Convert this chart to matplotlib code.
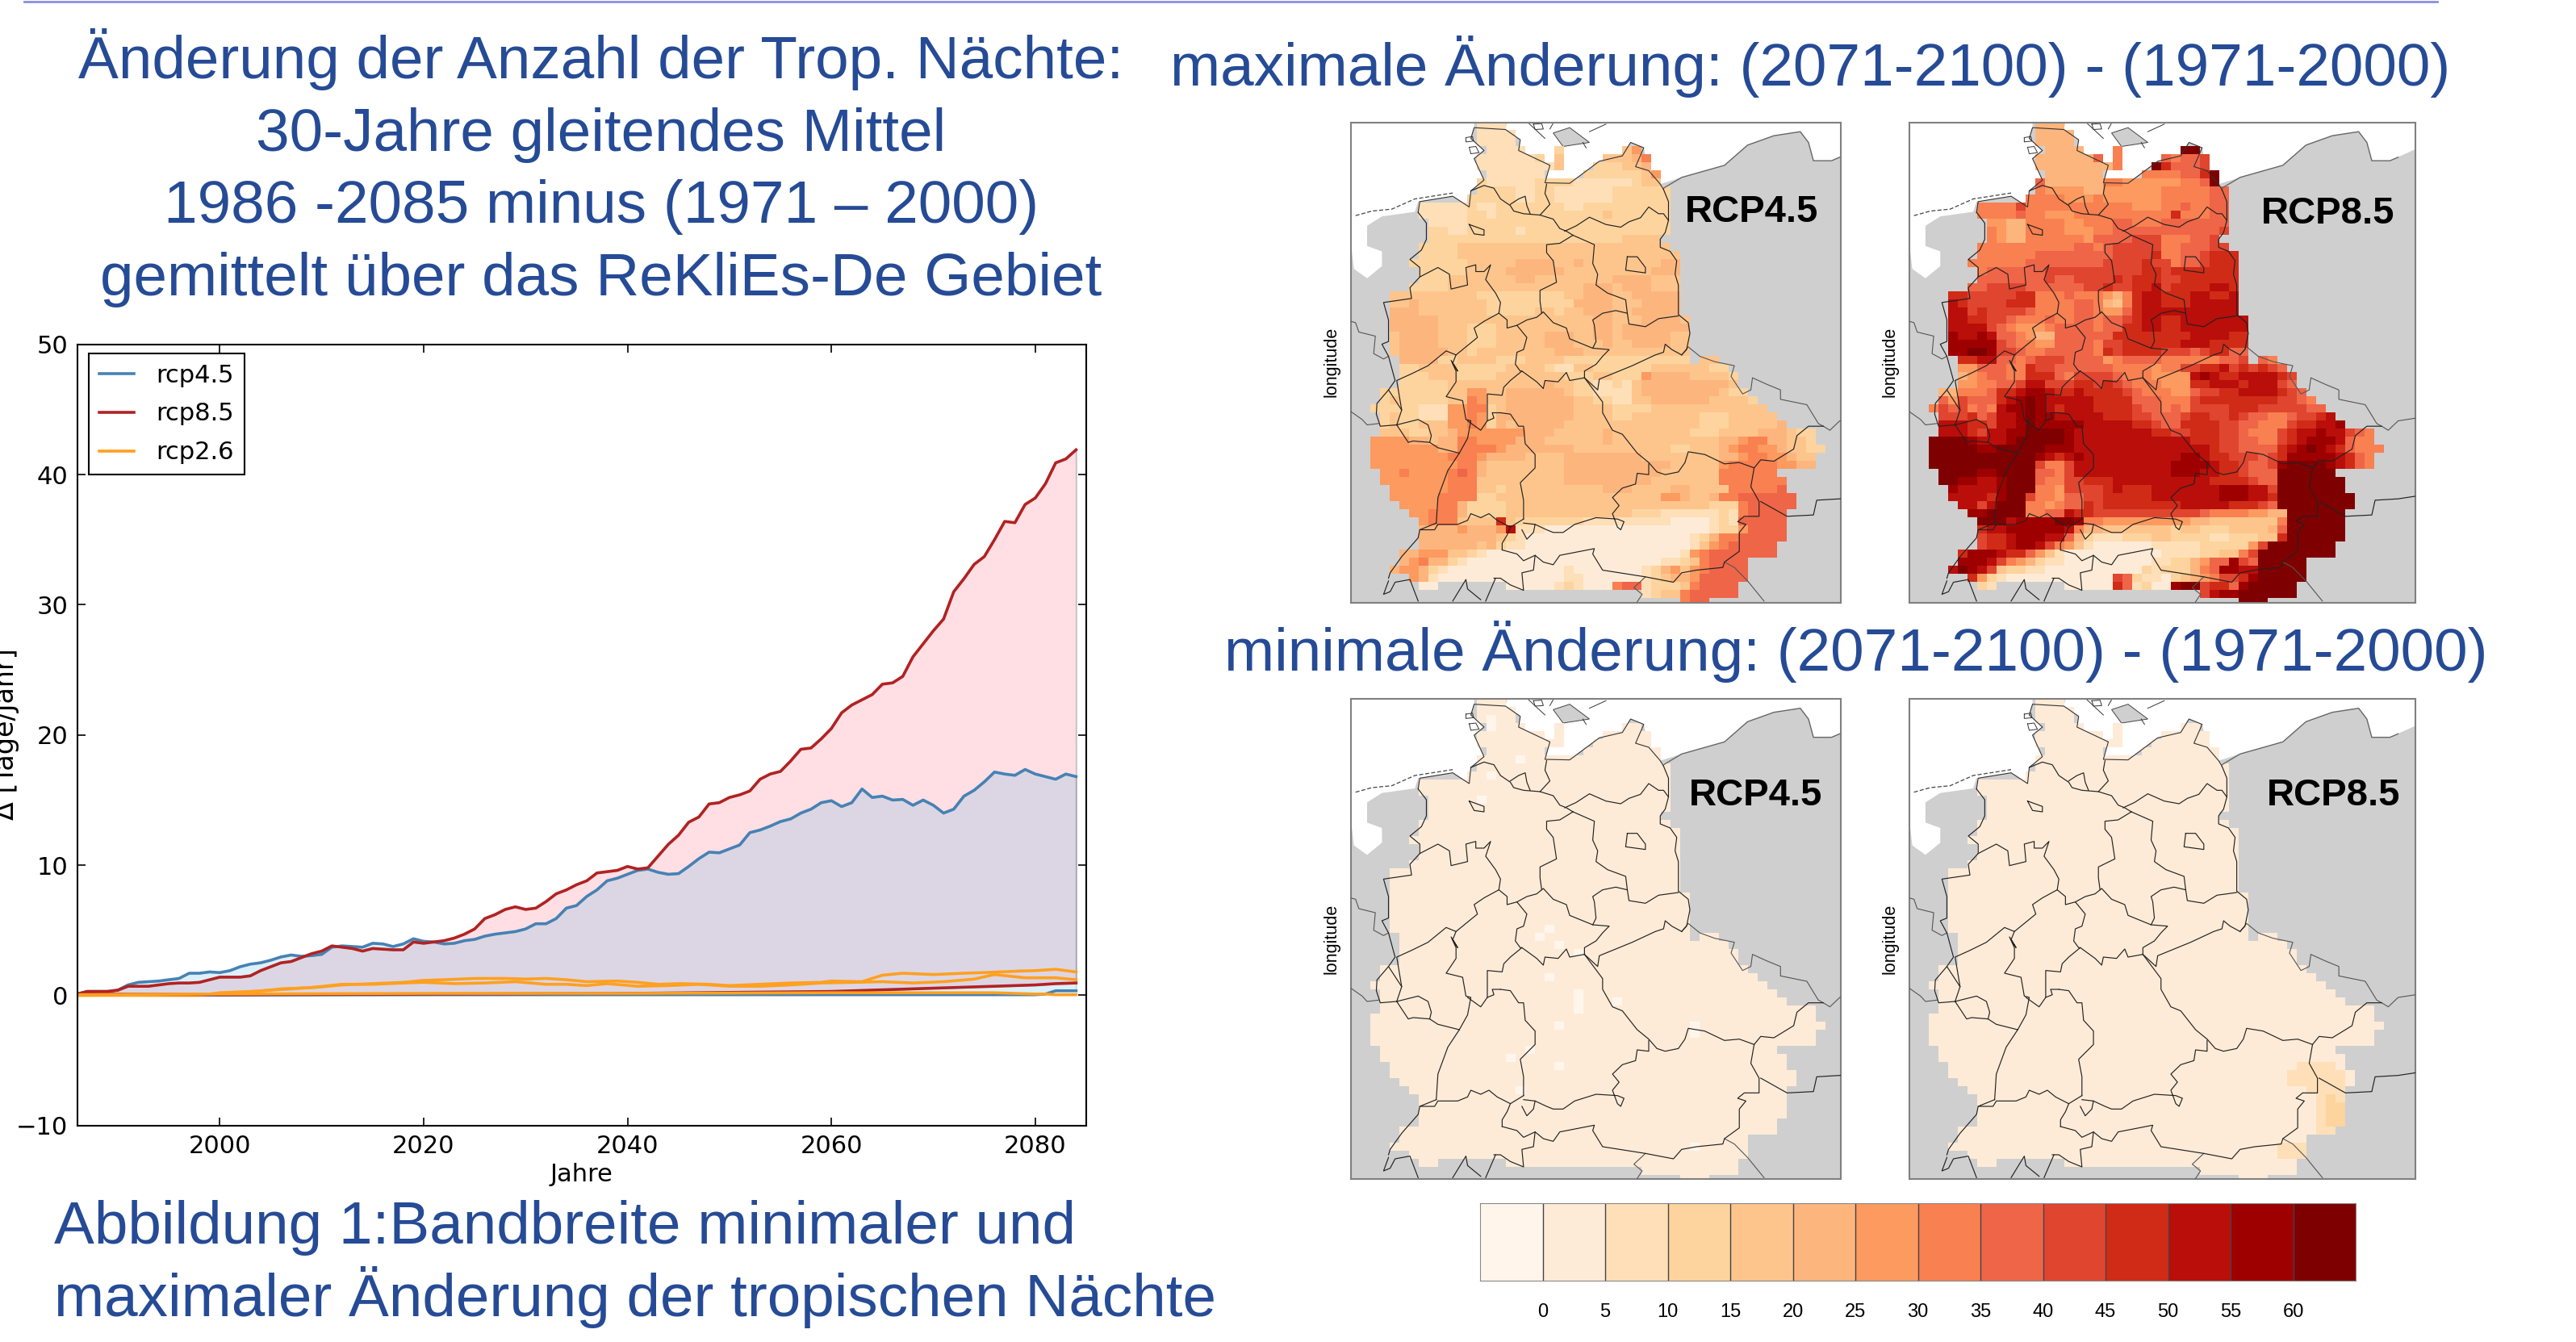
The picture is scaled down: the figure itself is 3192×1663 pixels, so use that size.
import numpy as np
import matplotlib
matplotlib.use("Agg")
import matplotlib.pyplot as plt
from matplotlib.colors import ListedColormap
from matplotlib.patches import Polygon

W, H = 3192, 1663
BLUE_TXT = "#264B96"

# ---------------- time series ----------------
YEARS = list(range(1986, 2085))
RCP85_MAX = [.1,.3,.3,.3,.4,.7,.7,.7,.8,.9,.95,.95,1.0,1.2,1.4,1.4,1.4,1.5,1.9,2.2,2.5,2.6,2.9,3.2,3.4,3.8,3.7,3.6,3.4,3.6,
             3.55,3.5,3.5,4.1,4.0,4.1,4.2,4.4,4.7,5.1,5.9,6.2,6.6,6.8,6.6,6.7,7.2,7.8,8.1,8.5,8.8,9.4,9.5,9.6,9.9,9.7,9.8,
             10.7,11.6,12.3,13.3,13.7,14.7,14.8,15.2,15.4,15.7,16.6,17.0,17.2,18,18.9,19,19.7,20.5,21.7,22.3,22.7,23.1,23.9,
             24.0,24.5,26,27,28,28.9,31,32,33.1,33.7,35,36.4,36.3,37.7,38.2,39.3,40.9,41.2,41.9]
RCP45_MAX = [.1,.3,.3,.3,.4,.8,1.0,1.05,1.1,1.2,1.3,1.7,1.7,1.8,1.75,1.9,2.2,2.4,2.5,2.7,2.95,3.1,3.0,3.05,3.15,3.7,3.8,3.75,3.7,4.0,
             3.95,3.75,3.95,4.35,4.15,4.1,3.95,4.0,4.2,4.3,4.55,4.7,4.8,4.9,5.1,5.5,5.5,5.9,6.7,6.9,7.6,8.1,8.8,9.0,9.3,9.6,9.7,
             9.45,9.3,9.35,9.9,10.5,11,10.95,11.25,11.55,12.5,12.7,13,13.35,13.55,14,14.3,14.8,14.95,14.5,14.8,15.85,15.2,15.3,
             15,15.05,14.6,15,14.6,14,14.3,15.3,15.75,16.4,17.15,17,16.9,17.35,17,16.8,16.6,17,16.8]
LOW_YEARS = [1986, 2000, 2020, 2040, 2060, 2064, 2068, 2072, 2076, 2080, 2081, 2082, 2084]
RCP85_MIN = [.1, .05, .1, .15, .3, .4, .5, .6, .7, .8, .85, .9, .95]
RCP45_MIN = [.05, .02, .05, .05, .05, .05, .05, .05, .05, .05, .1, .35, .35]
RCP26_MIN = [.05, .1, .15, .15, .2, .2, .2, .2, .2, .1, .1, .05, .05]
O_YEARS = [1986,1998,2000,2003,2005,2008,2010,2012,2015,2018,2020,2022,2025,2028,2030,2032,2034,2036,2039,2041,2043,2045,2048,
           2050,2053,2056,2059,2060,2063,2065,2067,2070,2073,2075,2078,2080,2082,2084]
RCP26_A = [0,0,.2,.3,.4,.55,.65,.8,.9,1.0,1.15,1.2,1.3,1.3,1.25,1.3,1.2,1.05,1.1,1.0,.85,.9,.85,.75,.85,.95,1.0,1.1,1.05,1.55,1.7,1.6,1.7,1.75,1.85,1.9,2.0,1.8]
O2_YEARS = [1986,2000,2003,2006,2009,2012,2015,2018,2020,2023,2026,2029,2032,2034,2036,2038,2041,2044,2047,2050,2053,2056,2059,2062,2065,2068,2071,2074,2076,2079,2082,2084]
RCP26_B = [0,.1,.25,.5,.6,.85,.85,.95,1.0,.9,.95,1.05,.85,.85,.75,.9,.7,.75,.85,.7,.7,.8,.95,1.0,1.05,.95,1.05,1.25,1.6,1.35,1.35,1.2]

# ---------------- colour classes ----------------
CB_TICKS = [0,5,10,15,20,25,30,35,40,45,50,55,60]
CB_COLORS = ["#FFF5EB","#FEEBD7","#FEDFB8","#FDD49E","#FDC58C","#FDB57E","#FC9A5F","#F98050",
             "#EF6548","#E0452F","#D02B17","#B90E0A","#9E0000","#7F0000"]

# ---------------- gridded changes: "start:levels" per grid row, hex digit = colour class ----------------
MAX45 = [
"12:222","12:2222","12:2222","13:2222 20:3 27:46","12:2222223 20:4 25:44457","12:22222222 20:4 24:333445",
"13:222222 23:33333346","12:3222223 333222222344","12:33332233222222333333","11:333332233222222333333",
"6:22222322333333322333333333","6:22222 332 33333333333 4 333333","7:2222 333 333333333333333333",
"7:3322 33333 2 333333333333333","7:33333333333333333333 4444","6:3333 4444444444444444444444",
"6:3333 44444444444444444444444","5:3333334 4444 555544 5444 44444 55","6:333334444555555444444444555",
"6:33344444 4455444 44444 5555 444","5:3333 444444444444 44 555 4 555 444","3:444 444444 333333 333 44 555 44 55 555",
"3:445 4444444 3333333 33 5555 444 5555","3:555 4444444 33333 44 344 555 445 5555","3:555 55 444444 44444 4444455 44455554",
"3:555 55 444 333 44444 444445 5 45555555","3:455 55 444 333 44444 5554455 45555544","3:455 55 444 333 44444 5554445 44555544",
"3:455 55 544 344 44444 4555444 44444444","4:5555 334444 33344 4433 3333 3333333 35:44",
"4:3344443 33334 444 322 4433 333344444433","4:3334443 33344 444 443 3344 333 65 55544443",
"4:3333344 44444 444 544 3322 32 45555555554","2:33 3333344 66 4 45 5555 54 3322 22 4555555554 33",
"2:34 3333344 76 44 55555 55 4433 22 4455555544 443","1:3 33 3322266 77 34 55555 55 4444 33 3344444444 4444",
"2:34 3322266 76 35 55555 55 4444 3344 44444333 44444","2:34 3344466 76 35 45555 54 4444 4444 44444333 444445",
"2:444 334456 6666 665 5544 4445 44444444 333 4444 555 433","1:666 655 455 77 666 65 5544 44445 44444444 444 55 677 55 443",
"1:666 666 655 77 776 55 5555 54444 44444433 444 5677 665 4433","1:666 666 667 77 655 55 4444 55555 555444 44444 55677 66 544",
"1:666 666 666 77 544 44 4444 55555 555555 44444 67777 76 655","2:66 766 667 87 544 44 4444 55555 555554 44444 77777 7",
"2:66 666 667 77 444 44 4444 55555 555544 44444 77777 77","3:6 666 667 77 443 44 4444 44445 554444 55444 47777 78",
"3:6 666 677 77 334 44 4444 44444 444446 65445 77888 888","4:666 677 53 333 44 4444 44444 444444 44443 33788 888",
"5:66 777 53 333 44 4444 44444 443332 22222 32788 88","6:6 777 44 44 a 43 3333 33222 222222 11112 32888 88",
"6:5 555 65 55 6 b2 2211 11111 111111 11112 33688 88","6:5 555 55 55 4 32 1111 11111 111111 11235 77888 88",
"6:5555 55 45 322 1111 11111 111111 11246 78888 8","4:556 664 43 21 111 1111 11111 111111 12678 88888 8",
"4:567 553 21 11 111 1111 11111 111112 23478 888","3:5 665 321 11 11 111 1111 21111 11123 56 4678 888",
"5:65 211 11 11 111 1111 22111 11123 45 5688 888","6:11 15:11111 232 111 788 2333 4788 88","29:2344 788 888","33:788",
]
MAX85 = [
"12:555","12:5555","12:5555","13:5555 20:7 27:dd","12:5555558 20:7 25:87889","12:55555555 20:7 24:da8889",
"13:555555 23:777788ad","12:8555555 7766666 677 8d","12:766 665 56 66666 777 7788","11:7 777 666 76 66666 777 7788",
"6:7777 9 7777 777 77 77666 778 7788","6:7777 8 7766 677 77 77777 7a7 7788","7:6655 7777 667 77 88777 888 8888",
"7:7655 7777 666 77 88888 888 8889","7:7655 7777 776 88 88999 777 889","6:77 7777 7777 887 8 999 99 7788 899",
"6:77 7777 8888 888 8 999 9a 7788 9aaa","5:7 77 7778 8888 888 9 999 a9 9788 9aaa","6:78 8888 8999 999 9 999 aa 9aaa aaaa",
"6:88 8888 8988 999 9 a9a aa 99aa aaaa","5:8 89 9998 8888 899 a 99a ab 9aaa abba","3:aa9 9999 aa7 778 777 65 7a bb aaab baab",
"3:ba9 999a aa7 777 887 54 7a bb aaab bbbb","3:bb9 a999 987 777 887 66 8a bb bbbb bbbb","3:bba a998 777 877 887 88 9a bb aabb bbbbb",
"3:bbb b987 666 788 887 88 aa bb aabb bbbbb","3:cbb cb88 765 588 888 8a aa aa aaab bbbaa","3:ccc cc98 776 688 887 99 aa aa aabb baaaa",
"3:ccd dc99 877 888 887 a9 aa aa 9998 9aa88","4:aabb 887899 98888 6788 8877 7777889 35:87",
"4:6688877 a9988 888 877 7767 799aab9a9a98","4:5678877 aaa87 999 987 7766 66 bcb aabbbba9",
"4:6677889 bb999 aa9 a98 7776 66 aabbbabbb98","2:55 7778aab cc b aa baaa a9 8777 66 899aabbbba 98",
"2:86 9888abc dc bb bbbaa aa 8887 77 9aaaaaaaa9 987","1:7 98 9787bcc dc ba bbbaa aa 9887 87 9999aaa999 9988",
"2:99 9a89bbc dc cb bbbba aa 9988 89aa 99a98877 899ab","2:bb baa9bbc dc cc ccbbb bb aa98 8aaa a9988777 9aabbc",
"2:bbb a9bbcc dddd cbb bbbb bbaa 99aaa998 777 9abb cbb 987","1:ddd dcb bbc dd ddd cb bbbb bbbbb bbaaa998 877 9a bcc cb 877",
"1:ddd ddc cdd dd dcc cb bbbb bbbbb bbbba998 888 abcd cba 8777","1:ddd ddd ddd dd cba bc bbbb bbbbb bccbaa 99989 acccc cb a87",
"1:ddd ddd ddd dd 977 9b bbbb bbbbb ccccba a9889 cdddd cb a87","2:dd ddc cdd dd 887 9b bbbb bbbbb cccbba a9888 ddddd d",
"2:dd ccb bcd dd 877 99 aaab bbbbb bbbbaa aa988 ddddd dd","3:c bbb bcd dd 776 99 99ab aaabb bbbbbc ccbb9 ddddd dd",
"3:b bbb acd d9 776 88 99aa aaabb bbbbbc ccbba ddddd ddd","4:bb9 bdd d7 767 88 a9aa aaaaa abbbbb aaa98 ddddd ddd",
"5:cc ddd d7 788 ba a999 99999 999877 77665 5dddd dd","6:d ddb cc ccd dc 7766 66666 665544 44444 7dddd dd",
"6:a bbc cc ccc b7 5544 44444 344333 44445 8dddd dd","6:9 aab cc cbb 85 3222 33344 333322 33344 adddd dd",
"6:9aab cc b9 764 2111 11122 222333 3369d ddddd d","4:acc cba a8 64 211 1111 11112 222334 479dd ddddd d",
"4:ccc b97 65 32 211 1111 11122 335688 c98dd ddd","3:b dcb 943 32 21 111 1111 11323 33578 cc bbdd ddd",
"5:a6 321 11 11 111 1119 83221 34567 99 acdd ddd","6:32 15:11111 a82 311 cdd 9aa8 cddd dd","29:9bcc ddd ddd","33:ddd",
]
# departures from the uniform 0-5 class in the minimum panels: (row, col, class)
MIN45_CELLS = [(2,13,0),(3,13,0),(9,13,0),(7,16,0),(12,12,0),(29,18,0),(30,20,0),(28,19,0),(31,22,0),(36,22,0),(37,22,0),(38,22,0),
               (40,20,0),(37,26,0),(40,34,0),(41,34,0),(43,17,0),(44,15,0),(45,20,0),(48,16,0),(55,34,0),(34,19,0)]
MIN85_SEGMENTS = [(45,39,"2222"),(46,38,"222222"),(47,38,"222222"),(48,40,"2222"),(49,41,"232"),(50,41,"233"),(51,41,"233"),
                  (52,41,"233"),(53,41,"22"),(55,37,"222"),(56,37,"222")]

# ---------------- geography, in map units ----------------
SEA = [(35,35),(35,475),(45,580),(85,615),(130,570),(130,515),(85,495),(85,420),(130,385),(230,368),(240,330),(345,310),(395,350),
       (400,290),(440,250),(410,170),(440,140),(400,95),(410,55),(410,35),(510,35),(505,62),(550,100),(545,140),(640,195),(625,260),
       (700,262),(790,180),(860,160),(885,110),(925,130),(940,215),(975,265),(1040,240),(1170,195),(1240,120),(1320,85),(1400,70),
       (1425,110),(1440,178),(1495,178),(1600,120),(1600,35)]
ISLAND = [(650,75),(700,55),(760,110),(680,125)]
COAST = [(240,370),(245,330),(345,310),(395,350),(400,290),(440,250),(410,170),(440,140),(400,95),(410,55),(505,62),(550,100),(545,140),
         (640,195),(625,260),(700,262),(790,180),(860,160),(885,110),(925,130),(900,200),(940,215),(975,265),(985,285)]
EAST_COAST = [(985,280),(1040,240),(1170,195),(1240,120),(1320,85),(1400,70),(1425,110),(1440,178),(1495,178),(1520,165)]
SMALL_ISLANDS = [
 [(385,92),(405,88),(408,105),(385,108),(385,92)],
 [(395,128),(415,125),(425,148),(400,152),(395,128)],
 [(590,42),(615,40),(620,60),(595,62),(590,42)],
 [(575,38),(625,95)],[(640,60),(650,38)],[(760,70),(810,42)],[(740,110),(750,130)],
]
BLACK = [
 [(400,290),(440,270),(470,280),(490,320),(520,345),(530,365),(560,375),(610,380),(650,395),(670,430),(690,440),(710,455)],
 [(610,380),(640,340),(625,300),(630,265)],
 [(520,340),(545,320),(565,310),(570,345),(580,375)],
 [(685,440),(720,420),(760,388),(810,415),(855,425),(880,405),(915,390),(940,350),(970,375),(985,375),(1000,400)],
 [(985,285),(1000,330),(1000,400),(990,445),(975,470),(975,500),(1005,515),(1025,550),(1020,600),(1030,640),(1030,750),(1060,780),(1065,820),(1055,880),(1040,900)],
 [(875,535),(905,535),(930,575),(930,595),(870,585),(875,535)],
 [(395,415),(440,435),(440,455),(410,450),(395,415)],
 [(240,370),(265,410),(265,470),(250,510),(215,545),(245,575),(245,610),(215,650),(220,690),(135,705),(150,770),(150,850),(130,860),(150,905),(160,950),(170,995),(150,1030),(115,1080),(113,1120),(125,1165),(175,1160)],
 [(245,610),(300,575),(335,600),(340,655),(390,640),(385,575),(415,565),(415,590),(440,590),(460,565),(445,620),(475,670),(490,705),(485,745),(440,775),(410,800),(420,835),(385,870),(355,900),(325,885),(270,940),(220,970),(175,995),(190,1105),(175,1160)],
 [(485,745),(510,770),(510,800),(540,790),(570,835),(560,880),(540,890),(535,935),(550,960),(555,960)],
 [(540,790),(570,770),(600,760),(620,740),(650,780),(690,800),(700,840),(770,875),(780,850),(775,790),(770,770),(800,745),(840,735),(875,745),(880,785),(930,795),(970,765),(1030,755)],
 [(710,455),(670,485),(630,490),(630,520),(650,550),(660,630),(610,660),(610,700),(615,745)],
 [(710,455),(775,490),(770,560),(785,600),(780,640),(815,670),(870,695),(875,745)],
 [(770,875),(820,880),(800,905),(780,935),(745,960),(745,985)],
 [(1040,900),(1010,880),(990,860),(985,890),(960,900),(890,940),(850,960),(790,990),(785,1030),(745,985)],
 [(745,985),(700,995),(690,965),(665,1000),(625,995),(620,1025),(600,1000),(555,960),(520,995),(500,1020),(495,1050),(450,1045),(450,1145),(430,1180),(390,1145)],
 [(355,900),(345,930),(360,960),(340,920),(355,960),(355,1000),(325,1055),(375,1070),(385,1140),(400,1145),(390,1210),(365,1265)],
 [(175,1160),(240,1140),(270,1160),(280,1200),(275,1225),(225,1220),(210,1225),(175,1160)],
 [(275,1225),(300,1245),(365,1265)],
 [(150,1030),(190,1105)],
 [(365,1265),(330,1330),(300,1430),(295,1525)],
 [(295,1525),(245,1550),(290,1550),(300,1530),(360,1530),(390,1515),(400,1490),(430,1505),(455,1490),(480,1515),(520,1540),(560,1510)],
 [(490,1115),(520,1120),(545,1165),(560,1165),(565,1230),(595,1270),(595,1320),(550,1375),(560,1440),(560,1510)],
 [(450,1145),(470,1135),(465,1115),(490,1115)],
 [(560,1525),(595,1530),(590,1560),(570,1585),(555,1550)],
 [(595,1530),(630,1550),(650,1560),(680,1560),(715,1530),(780,1505),(845,1510),(865,1520),(855,1550),(845,1540),(830,1490),(850,1460),(830,1430),(860,1395),(900,1380),(905,1340),(940,1345),(940,1305)],
 [(745,985),(800,1075),(800,1115),(830,1180),(860,1195),(905,1265),(940,1300),(965,1335),(990,1345),(1030,1335),(1050,1300),(1060,1260),(1110,1270),(1170,1305),(1215,1300),(1260,1320),(1280,1290),(1320,1295),(1380,1250),(1390,1200),(1425,1165),(1470,1165)],
 [(1260,1320),(1250,1390),(1275,1445),(1275,1500),(1230,1500),(1210,1520),(1235,1530),(1215,1560),(1215,1630),(1170,1670),(1165,1690),(1085,1700),(1040,1710),(1015,1745),(930,1725),(800,1700),(770,1640),(775,1620),(670,1645),(650,1680),(620,1670),(595,1645),(590,1700),(555,1710),(560,1775),(520,1755),(490,1730),(470,1730)],
 [(495,1625),(540,1640),(560,1665),(595,1645)],
 [(495,1625),(495,1600),(510,1570),(520,1540)],
 [(245,1550),(240,1580),(190,1650),(155,1710),(150,1730)],
 [(150,1740),(135,1790),(155,1780),(170,1745),(215,1735),(240,1815)],
 [(345,1815),(385,1735),(390,1770),(430,1810)],
 [(445,1815),(475,1730)],
 [(1280,1445),(1360,1500),(1440,1495),(1450,1440),(1520,1435),(1600,1420)],
]
GREY = [
 [(1040,900),(1060,870),(1095,905),(1140,925),(1200,940),(1190,980),(1225,1045),(1250,1030),(1255,985),(1300,1010),(1340,1030),(1340,1065),(1420,1085),(1455,1155),(1470,1165),(1490,1180),(1520,1145),(1600,1130)],
 [(35,775),(50,780),(60,815),(110,830),(105,895),(135,915),(150,905)],
 [(35,1110),(70,1140),(85,1160),(120,1155)],
 [(1170,1670),(1200,1690),(1240,1740),(1290,1815)],
 [(930,1725),(895,1765),(920,1790),(905,1818)],
]
FRISIAN = [(50,382),(100,365),(160,358),(230,320),(345,298)]

def decode(rows):
    grid = np.full((len(rows), 48), np.nan)
    for r, spec in enumerate(rows):
        c = 0
        for tok in spec.split():
            if ":" in tok:
                start, tok = tok.split(":")
                c = int(start)
            for ch in tok:
                if c < 48:
                    grid[r, c] = int(ch, 16)
                c += 1
    return grid

GRID_MAX45 = decode(MAX45)
GRID_MAX85 = decode(MAX85)
GRID_MIN45 = np.where(np.isnan(GRID_MAX45), np.nan, 1.0)
for r, c, v in MIN45_CELLS:
    GRID_MIN45[r, c] = v
GRID_MIN85 = np.where(np.isnan(GRID_MAX45), np.nan, 1.0)
for r, c0, s in MIN85_SEGMENTS:
    for i, ch in enumerate(s):
        GRID_MIN85[r, c0 + i] = int(ch)

plt.rcParams["font.family"] = ["Liberation Sans", "DejaVu Sans"]
fig = plt.figure(figsize=(W / 100, H / 100), dpi=100, facecolor="white")

def box(x0, y0, x1, y1):
    return [x0 / W, 1 - y1 / H, (x1 - x0) / W, (y1 - y0) / H]

def txt(x, y, s, size, ha="left", **kw):
    kw.setdefault("color", BLUE_TXT)
    return fig.text(x / W, 1 - y / H, s, fontsize=size, ha=ha, va="baseline", **kw)

fig.add_artist(plt.Line2D([30 / W, 3020 / W], [1 - 1.5 / H, 1 - 1.5 / H], color="#8A8FE0", lw=2))

FS = 53.85
for y, s in [(97, "Änderung der Anzahl der Trop. Nächte:"), (187, "30-Jahre gleitendes Mittel"),
             (276, "1986 -2085 minus (1971 – 2000)"), (366, "gemittelt über das ReKliEs-De Gebiet")]:
    txt(745, y, s, FS, ha="center")
txt(1450, 106, "maximale Änderung: (2071-2100) - (1971-2000)", FS)
txt(1517, 831, "minimale Änderung: (2071-2100) - (1971-2000)", FS)
txt(67, 1541, "Abbildung 1:Bandbreite minimaler und", FS)
txt(67, 1631, "maximaler Änderung der tropischen Nächte", FS)

# ---------------- line chart ----------------
ax = fig.add_axes(box(95.5, 426.7, 1346, 1394.8))
zero85 = np.interp(YEARS, LOW_YEARS, RCP85_MIN)
zero45 = np.interp(YEARS, LOW_YEARS, RCP45_MIN)
ax.fill_between(YEARS, zero85, RCP85_MAX, facecolor="#FFC0CB", edgecolor="#999999", alpha=.5, lw=1.5)
ax.fill_between(YEARS, zero45, RCP45_MAX, facecolor="#50B4E6", edgecolor="#666666", alpha=.2, lw=1.5)
ax.plot(YEARS, RCP45_MAX, color="#4682B4", lw=2.6, label="rcp4.5")
ax.plot(LOW_YEARS, RCP45_MIN, color="#4682B4", lw=2.6)
ax.plot(O_YEARS, RCP26_A, color="#FFA020", lw=2.6)
ax.plot(O2_YEARS, RCP26_B, color="#FFA020", lw=2.6)
ax.plot(YEARS, RCP85_MAX, color="#B22222", lw=2.6, label="rcp8.5")
ax.plot(LOW_YEARS, RCP85_MIN, color="#B22222", lw=2.6)
ax.plot(LOW_YEARS, RCP26_MIN, color="#FFA020", lw=2.6, label="rcp2.6")
ax.set_xlim(1986, 2085)
ax.set_ylim(-10, 50)
ax.set_xticks([2000, 2020, 2040, 2060, 2080])
ax.set_yticks([-10, 0, 10, 20, 30, 40, 50])
ax.tick_params(direction="in", top=True, right=True, length=7, width=1.2, labelsize=22, pad=8)
for t in ax.get_xticklabels() + ax.get_yticklabels():
    t.set_family("DejaVu Sans")
for s in ax.spines.values():
    s.set_linewidth(1.5)
leg = ax.legend(loc="upper left", bbox_to_anchor=(14.5 / 1250.5, 1 - 11 / 968), borderaxespad=0, fancybox=False,
                framealpha=1, edgecolor="black", prop={"family": "DejaVu Sans", "size": 22}, handlelength=1.4,
                handletextpad=.9, labelspacing=.62, borderpad=.42)
leg.get_frame().set_linewidth(1.5)
txt(721, 1464, "Jahre", 22, ha="center", color="black", family="DejaVu Sans")
fig.text(8 / W, 1 - 910 / H, "Δ [Tage/Jahr]", rotation=90, fontsize=24, ha="center", va="center", family="DejaVu Sans", color="black")

# ---------------- maps ----------------
CMAP = ListedColormap(CB_COLORS)
U0, V0, CU, CV = 35.0, 35.0, 2.45, 3.0

def map_panel(x0, y0, width, grid, label, lx, ly):
    a = fig.add_axes(box(x0, y0, x0 + width, y0 + 595))
    a.set_facecolor("#CFCFCF")
    a.add_patch(Polygon(SEA, closed=True, fc="white", ec="none", zorder=1))
    a.add_patch(Polygon(ISLAND, closed=True, fc="#CFCFCF", ec="#444444", lw=.7, zorder=1.5))
    for isl in SMALL_ISLANDS:
        a.plot(*zip(*isl), color="#333333", lw=.7, zorder=1.6)
    a.imshow(grid, cmap=CMAP, vmin=-.5, vmax=13.5, aspect="auto", interpolation="nearest", zorder=2,
             extent=(64.4, 64.4 + 29.4 * 48, 35 + 30 * grid.shape[0], 35))
    for line in GREY:
        a.plot(*zip(*line), color="#555555", lw=.8, zorder=3)
    a.plot(*zip(*EAST_COAST), color="#666666", lw=1.0, zorder=3)
    a.plot(*zip(*COAST), color="#333333", lw=.8, zorder=3)
    a.plot(*zip(*FRISIAN), color="#444444", lw=.9, ls=(0, (4, 2)), zorder=3)
    for line in BLACK:
        a.plot(*zip(*line), color="#222222", lw=.85, zorder=4)
    a.set_xlim(U0, U0 + width * CU)
    a.set_ylim(V0 + 595 * CV, V0)
    a.set_xticks([])
    a.set_yticks([])
    for s in a.spines.values():
        s.set_color("#808080")
        s.set_linewidth(1.5)
    txt(lx, ly, label, 34, weight="bold", color="black")
    fig.text((x0 - 24) / W, 1 - (y0 + 297) / H, "longitude", rotation=90, fontsize=15.5, ha="center", va="center", color="black")

map_panel(1673.6, 151.5, 607.4, GRID_MAX45, "RCP4.5", 2088, 275)
map_panel(2365.5, 151.5, 627.5, GRID_MAX85, "RCP8.5", 2802, 277)
map_panel(1673.6, 866, 607.4, GRID_MIN45, "RCP4.5", 2093, 998)
map_panel(2365.5, 866, 627.5, GRID_MIN85, "RCP8.5", 2809, 998)

# ---------------- colour bar ----------------
cax = fig.add_axes(box(1834, 1491, 2919, 1587))
edges = [-5] + CB_TICKS + [65]
cax.pcolormesh(edges, [0, 1], np.arange(14).reshape(1, -1), cmap=CMAP, vmin=-.5, vmax=13.5)
for e in CB_TICKS:
    cax.axvline(e, color="#444444", lw=1)
cax.set_xlim(-5, 65)
cax.set_ylim(0, 1)
cax.set_yticks([])
cax.set_xticks(CB_TICKS)
cax.set_xticklabels([str(t) for t in CB_TICKS], fontsize=17)
cax.tick_params(length=0, pad=20)
for s in cax.spines.values():
    s.set_color("#888888")

fig.savefig("out.png", dpi=100)
